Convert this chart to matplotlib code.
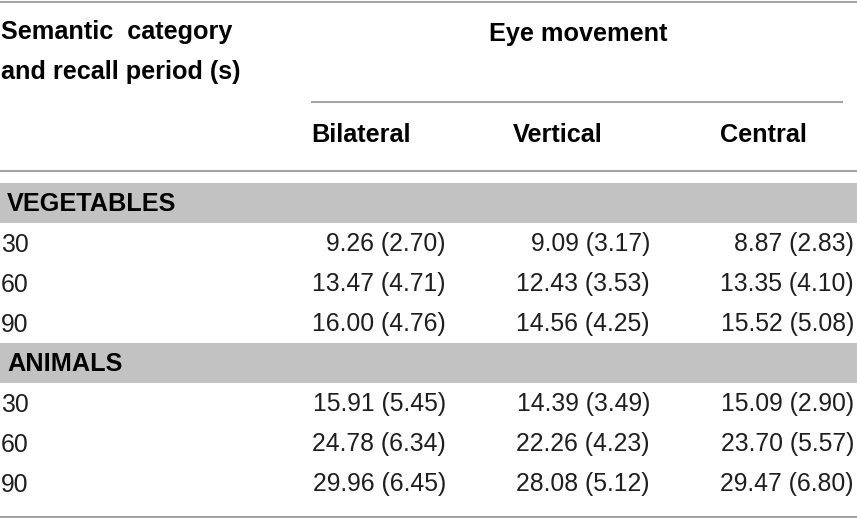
import matplotlib
matplotlib.use("Agg")
import matplotlib.pyplot as plt
from matplotlib.patches import Rectangle

# ------------------------------------------------------------
# Table data: mean (SD) words recalled per condition
# ------------------------------------------------------------
conditions = ["Bilateral", "Vertical", "Central"]
periods = ["30", "60", "90"]
categories = ["VEGETABLES", "ANIMALS"]

veg_means = [[9.26, 9.09, 8.87],
             [13.47, 12.43, 13.35],
             [16.00, 14.56, 15.52]]
veg_sds = [[2.70, 3.17, 2.83],
           [4.71, 3.53, 4.10],
           [4.76, 4.25, 5.08]]

ani_means = [[15.91, 14.39, 15.09],
             [24.78, 22.26, 23.70],
             [29.96, 28.08, 29.47]]
ani_sds = [[5.45, 3.49, 2.90],
           [6.34, 4.23, 5.57],
           [6.45, 5.12, 6.80]]

# ------------------------------------------------------------
# Layout (pixel units, y grows downward)
# ------------------------------------------------------------
W, H = 857, 518
FONT = "Liberation Sans"
BOLD_SIZE = 18.2
REG_SIZE = 17.8
LINE_COLOR = "#a3a3a3"
BAND_COLOR = "#c2c2c2"

col_left = [311, 513, 720]     # header left edges
col_right = [446, 650, 854]    # value right edges
band_tops = [183, 343]
band_h = 40
row_h = 40

fig = plt.figure(figsize=(W / 100, H / 100), dpi=100)
ax = fig.add_axes([0, 0, 1, 1])
ax.set_xlim(0, W)
ax.set_ylim(H, 0)
ax.axis("off")

# horizontal rules
ax.plot([0, W], [1.5, 1.5], color=LINE_COLOR, lw=1.5, solid_capstyle="butt")
ax.plot([col_left[0], 843], [102, 102], color=LINE_COLOR, lw=1.5, solid_capstyle="butt")
ax.plot([0, W], [171, 171], color=LINE_COLOR, lw=1.5, solid_capstyle="butt")
ax.plot([0, W], [516.5, 516.5], color=LINE_COLOR, lw=1.5, solid_capstyle="butt")

# header text
ax.text(1, 39.5, "Semantic  category", fontsize=BOLD_SIZE, fontweight="bold",
        family=FONT, va="baseline", ha="left")
ax.text(1, 79.5, "and recall period (s)", fontsize=BOLD_SIZE, fontweight="bold",
        family=FONT, va="baseline", ha="left")
ax.text(578, 40.5, "Eye movement", fontsize=BOLD_SIZE, fontweight="bold",
        family=FONT, va="baseline", ha="center")
for x, name in zip(col_left, conditions):
    ax.text(x, 142.5, name, fontsize=BOLD_SIZE, fontweight="bold",
            family=FONT, va="baseline", ha="left")

# body: one shaded band per category then its rows
for top, cat, means, sds in zip(band_tops, categories,
                                [veg_means, ani_means], [veg_sds, ani_sds]):
    ax.add_patch(Rectangle((0, top), W, band_h, color=BAND_COLOR, lw=0))
    ax.text(7, top + 28, cat, fontsize=BOLD_SIZE, fontweight="bold",
            family=FONT, va="baseline", ha="left")
    for i, period in enumerate(periods):
        y = top + band_h + 28.5 + i * row_h
        ax.text(1, y, period, fontsize=REG_SIZE, family=FONT,
                color="#1e1e1e", va="baseline", ha="left")
        for j, xr in enumerate(col_right):
            ax.text(xr, y, f"{means[i][j]:.2f} ({sds[i][j]:.2f})",
                    fontsize=REG_SIZE, family=FONT, color="#1e1e1e",
                    va="baseline", ha="right")

fig.savefig("out.png", dpi=100, facecolor="white")
